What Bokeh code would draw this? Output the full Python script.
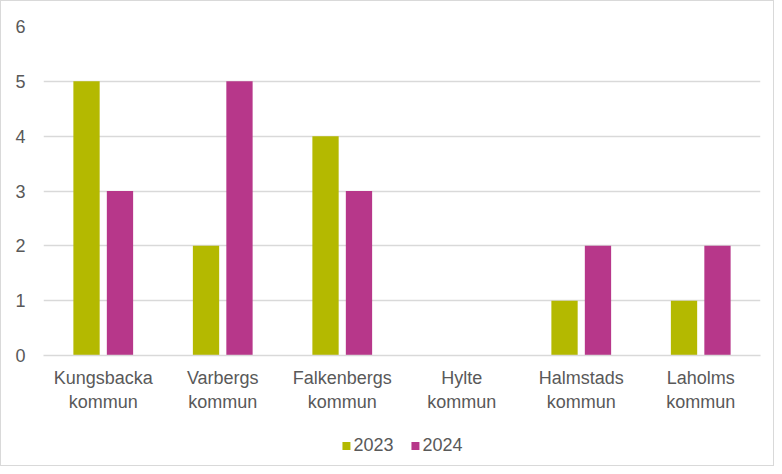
from bokeh.plotting import figure
from bokeh.layouts import column
from bokeh.models import ColumnDataSource, FactorRange, Range1d, Legend, LegendItem, SingleIntervalTicker
from bokeh.transform import dodge
from bokeh.embed import file_html
from bokeh.resources import INLINE

categories = ["Kungsbacka\nkommun", "Varbergs\nkommun", "Falkenbergs\nkommun",
              "Hylte\nkommun", "Halmstads\nkommun", "Laholms\nkommun"]
values_2023 = [5, 2, 4, 0, 1, 1]
values_2024 = [3, 5, 3, 0, 2, 2]
series_names = ["2023", "2024"]

color_2023 = "#B4B900"
color_2024 = "#B7378A"
text_color = "#595959"
font = "Liberation Sans"
fsize = "18px"

source = ColumnDataSource(dict(cat=categories, v23=values_2023, v24=values_2024))

p = figure(x_range=FactorRange(*categories), y_range=Range1d(0, 6),
           width=772, height=424, output_backend="svg", toolbar_location=None,
           min_border_left=42, min_border_right=13, min_border_top=25, min_border_bottom=70)

r1 = p.vbar(x=dodge("cat", -0.14, range=p.x_range), top="v23", width=0.22, source=source,
            color=color_2023, line_color=None)
r2 = p.vbar(x=dodge("cat", 0.14, range=p.x_range), top="v24", width=0.22, source=source,
            color=color_2024, line_color=None)

p.outline_line_color = None
p.xgrid.grid_line_color = None
p.ygrid.grid_line_color = "#d9d9d9"
p.ygrid.grid_line_width = 1.5
p.yaxis.ticker = SingleIntervalTicker(interval=1)
p.yaxis.axis_line_color = None
p.yaxis.major_tick_line_color = None
p.yaxis.minor_tick_line_color = None
p.yaxis.major_label_text_font = font
p.yaxis.major_label_text_font_size = fsize
p.yaxis.major_label_text_color = text_color
p.yaxis.major_label_standoff = 12

p.xaxis.axis_line_color = "#d9d9d9"
p.xaxis.axis_line_width = 1.5
p.xaxis.major_tick_line_color = None
p.xaxis.minor_tick_line_color = None
p.xaxis.major_label_text_font = font
p.xaxis.major_label_text_font_size = fsize
p.xaxis.major_label_text_color = text_color
p.xaxis.major_label_standoff = 6

# legend in a small strip below the chart (zero-height proxy bars carry the colours)
lg = figure(width=772, height=40, output_backend="svg", toolbar_location=None,
            x_range=FactorRange(*categories), y_range=Range1d(0, 6),
            min_border=0)
lg.axis.visible = False
lg.grid.grid_line_color = None
lg.outline_line_color = None
proxy = ColumnDataSource(dict(cat=categories[3:4], v=values_2023[3:4]))
l1 = lg.vbar(x="cat", top="v", width=0.2, source=proxy, color=color_2023, line_color=None)
l2 = lg.vbar(x="cat", top="v", width=0.2, source=proxy, color=color_2024, line_color=None)
legend = Legend(items=[LegendItem(label=series_names[0], renderers=[l1]),
                       LegendItem(label=series_names[1], renderers=[l2])],
                orientation="horizontal", location="center",
                border_line_color=None, background_fill_alpha=0,
                label_text_font=font, label_text_font_size=fsize,
                label_text_color=text_color, glyph_width=10, glyph_height=10,
                spacing=16, label_standoff=3, margin=0, padding=2)
lg.add_layout(legend, "center")

layout = column(p, lg, spacing=0)
layout.styles = {"border": "1px solid #d9d9d9"}

open("out.html", "w").write(file_html(layout, INLINE))
